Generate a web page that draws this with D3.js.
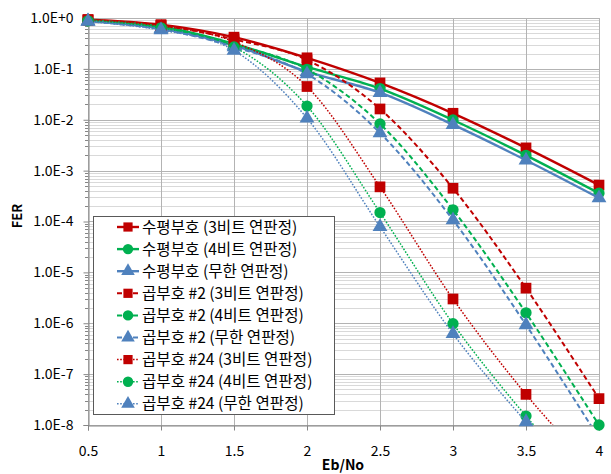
<!DOCTYPE html>
<html>
<head>
<meta charset="utf-8">
<script src="https://cdn.jsdelivr.net/npm/d3@7"></script>
<style>
  body { margin: 0; background: #fff; }
  svg { display: block; }
  text { font-family: "Noto Sans CJK KR", "Noto Sans", sans-serif; fill: #000; }
</style>
</head>
<body>
<svg id="chart" width="611" height="474"></svg>
<script>
// Eb/No values on the x axis
const ebno = [0.5, 1, 1.5, 2, 2.5, 3, 3.5, 4];

// FER per series
const hv3   = [0.93, 0.74, 0.42, 0.165, 0.053, 0.0134, 0.0028, 5.2e-4];
const hv4   = [0.90, 0.68, 0.31, 0.109, 0.041, 0.0099, 0.0020, 3.6e-4];
const hvInf = [0.87, 0.62, 0.29, 0.088, 0.034, 0.0080, 0.0016, 2.9e-4];
const p2b3  = [0.92, 0.72, 0.38, 0.150, 0.0163, 4.5e-4, 4.9e-6, 3.3e-8];
const p2b4  = [0.89, 0.66, 0.30, 0.098, 0.0083, 1.7e-4, 1.6e-6, 1.0e-8];
const p2Inf = [0.86, 0.60, 0.27, 0.079, 0.0055, 1.07e-4, 9.3e-7, 5.5e-9];
const p24b3 = [0.91, 0.70, 0.34, 0.045, 4.8e-4, 3.0e-6, 4.0e-8, 1.0e-9];
const p24b4 = [0.88, 0.64, 0.27, 0.0186, 1.5e-4, 9.8e-7, 1.5e-8, 4.0e-10];
const p24Inf = [0.85, 0.58, 0.23, 0.0107, 7.9e-5, 6.2e-7, 1.15e-8, 3.0e-10];

const seriesNames = [
  "수평부호 (3비트 연판정)", "수평부호 (4비트 연판정)", "수평부호 (무한 연판정)",
  "곱부호 #2 (3비트 연판정)", "곱부호 #2 (4비트 연판정)", "곱부호 #2 (무한 연판정)",
  "곱부호 #24 (3비트 연판정)", "곱부호 #24 (4비트 연판정)", "곱부호 #24 (무한 연판정)",
];
const seriesValues = [hv3, hv4, hvInf, p2b3, p2b4, p2Inf, p24b3, p24b4, p24Inf];

const xTicks = [0.5, 1, 1.5, 2, 2.5, 3, 3.5, 4];
const yTicks = [1, 1e-1, 1e-2, 1e-3, 1e-4, 1e-5, 1e-6, 1e-7, 1e-8];

const colors = ["#C00000", "#00B050", "#4F81BD"];
const symbols = [d3.symbolSquare, d3.symbolCircle, d3.symbolTriangle];
const dashes = [null, "5,3", "1.6,1.6"];
const widths = [2.4, 2, 1.5];

const series = seriesNames.map((name, i) => ({
  name,
  color: colors[i % 3],
  symbol: symbols[i % 3],
  dash: dashes[Math.floor(i / 3)],
  width: widths[Math.floor(i / 3)],
  points: ebno.map((x, j) => ({ x, y: seriesValues[i][j] })),
}));

const plot = { left: 88, right: 599, top: 18, bottom: 425 };

const svg = d3.select("#chart");
const x = d3.scaleLinear().domain([0.5, 4]).range([plot.left, plot.right]);
const y = d3.scaleLog().domain([1e-8, 1]).range([plot.bottom, plot.top]);

svg.append("defs").append("clipPath").attr("id", "plotClip")
  .append("rect")
  .attr("x", plot.left).attr("y", plot.top)
  .attr("width", plot.right - plot.left).attr("height", plot.bottom - plot.top);

// Grid: minor then major
const minorVals = [];
for (let e = -8; e < 0; e++) {
  for (let m = 2; m <= 9; m++) minorVals.push(m * Math.pow(10, e));
}
const grid = svg.append("g");
grid.selectAll("line.minor").data(minorVals).join("line")
  .attr("class", "minor")
  .attr("x1", plot.left).attr("x2", plot.right)
  .attr("y1", (d) => Math.round(y(d)) + 0.5).attr("y2", (d) => Math.round(y(d)) + 0.5)
  .attr("stroke", "#d9d9d9").attr("stroke-width", 1);
grid.selectAll("line.major").data(yTicks).join("line")
  .attr("class", "major")
  .attr("x1", plot.left).attr("x2", plot.right)
  .attr("y1", (d) => Math.round(y(d)) + 0.5).attr("y2", (d) => Math.round(y(d)) + 0.5)
  .attr("stroke", "#b3b3b3").attr("stroke-width", 1);
grid.selectAll("line.vert").data(xTicks).join("line")
  .attr("class", "vert")
  .attr("x1", (d) => Math.round(x(d)) + 0.5).attr("x2", (d) => Math.round(x(d)) + 0.5)
  .attr("y1", plot.top).attr("y2", plot.bottom)
  .attr("stroke", "#b3b3b3").attr("stroke-width", 1);

// Axes
const yAxis = d3.axisLeft(y).tickValues(yTicks)
  .tickFormat((d) => "1.0E" + (d >= 1 ? "+0" : Math.round(Math.log10(d))))
  .tickSize(5).tickPadding(10);
const yG = svg.append("g").attr("transform", `translate(${plot.left + 0.5},0)`).call(yAxis);
yG.selectAll("text").style("font-size", "14px");
yG.select(".domain").attr("stroke", "#868686");
yG.selectAll(".tick line").attr("stroke", "#868686");
svg.append("g").selectAll("line").data(minorVals).join("line")
  .attr("x1", plot.left - 3).attr("x2", plot.left)
  .attr("y1", (d) => Math.round(y(d)) + 0.5).attr("y2", (d) => Math.round(y(d)) + 0.5)
  .attr("stroke", "#868686");

const xAxis = d3.axisBottom(x).tickValues(xTicks).tickFormat(d3.format("")).tickSize(5).tickPadding(16);
const xG = svg.append("g").attr("transform", `translate(0,${plot.bottom + 0.5})`).call(xAxis);
xG.selectAll("text").style("font-size", "14px");
xG.select(".domain").attr("stroke", "#868686");
xG.selectAll(".tick line").attr("stroke", "#868686");

// Axis titles
svg.append("text")
  .attr("transform", "translate(22,216) rotate(-90)")
  .attr("text-anchor", "middle")
  .style("font-size", "13px").style("font-weight", "bold")
  .text("FER");
svg.append("text")
  .attr("x", 343).attr("y", 470)
  .attr("text-anchor", "middle")
  .style("font-size", "14px").style("font-weight", "bold")
  .text("Eb/No");

// Series
const line = d3.line().x((d) => x(d.x)).y((d) => y(d.y)).curve(d3.curveCardinal.tension(0));
const seriesG = svg.append("g");
series.forEach((s) => {
  const g = seriesG.append("g");
  g.append("path")
    .attr("clip-path", "url(#plotClip)")
    .attr("d", line(s.points))
    .attr("fill", "none")
    .attr("stroke", s.color)
    .attr("stroke-width", s.width)
    .attr("stroke-dasharray", s.dash);
  const sym = d3.symbol().type(s.symbol).size(s.symbol === d3.symbolTriangle ? 95 : s.symbol === d3.symbolCircle ? 100 : 115);
  g.selectAll("path.mk").data(s.points.filter((p) => p.y >= 0.9e-8)).join("path")
    .attr("class", "mk")
    .attr("transform", (p) => `translate(${x(p.x)},${y(p.y)})`)
    .attr("d", sym)
    .attr("fill", s.color);
});

// Legend
const legend = svg.append("g");
legend.append("rect")
  .attr("x", 93.5).attr("y", 216.5).attr("width", 241).attr("height", 198)
  .attr("fill", "#fff").attr("stroke", "#595959").attr("stroke-width", 1);
series.forEach((s, i) => {
  const ly = 227 + i * 22.1;
  const row = legend.append("g").attr("transform", `translate(0,${ly})`);
  row.append("line")
    .attr("x1", 117).attr("x2", 139).attr("y1", 0).attr("y2", 0)
    .attr("stroke", s.color).attr("stroke-width", s.width)
    .attr("stroke-dasharray", s.dash);
  row.append("path")
    .attr("transform", "translate(128,0)")
    .attr("d", d3.symbol().type(s.symbol).size(s.symbol === d3.symbolTriangle ? 80 : 85))
    .attr("fill", s.color);
  row.append("text")
    .attr("x", 142).attr("y", 0).attr("dy", "0.36em")
    .style("font-size", "15.6px")
    .text(s.name);
});
</script>
</body>
</html>
